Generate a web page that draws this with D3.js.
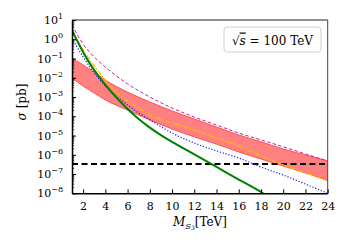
<!DOCTYPE html>
<html><head><meta charset="utf-8">
<script src="https://cdn.jsdelivr.net/npm/d3@7"></script>
<style>body{margin:0;background:#fff}svg{display:block}svg text{fill:#000}</style>
</head><body>
<svg id="c" width="350" height="250"></svg>
<script>
// ---- data ----
const xTicks = [2,4,6,8,10,12,14,16,18,20,22,24];
const yTickExps = [1,0,-1,-2,-3,-4,-5,-6,-7,-8];

const bandMass  = [1,2,3,4,6,8,10,12,14,16,18,20,22,24];
const bandUpper = [0.107,0.046,0.02,7.6e-3,1.8e-3,5.5e-4,1.9e-4,7.2e-5,2.75e-5,1.07e-5,4.7e-6,2.0e-6,9.8e-7,4.8e-7];
const bandLower = [9.8e-3,3.7e-3,1.6e-3,7.1e-4,2.1e-4,6.5e-5,2.2e-5,8.5e-6,3.6e-6,1.4e-6,6.0e-7,2.6e-7,1.15e-7,4.9e-8];

const magentaMass  = [1,2,3,4,5,6,8,10,12,14,16,18,20,22,24];
const magentaSigma = [5.5,0.56,0.12,0.036,0.0123,0.0048,1.0e-3,2.7e-4,9.1e-5,3.5e-5,1.35e-5,5.9e-6,2.6e-6,1.1e-6,4.8e-7];

const orangeMass  = [1,2,3,4,5,6,7,8,10,12,14,16,18,20,22,24];
const orangeSigma = [2.7,0.275,0.041,7.6e-3,1.8e-3,6.2e-4,2.7e-4,1.17e-4,4.5e-5,1.95e-5,7.4e-6,2.9e-6,8.7e-7,2.95e-7,1.15e-7,4.4e-8];

const blueMass  = [1,2,3,4,5,6,7,8,10,12,14,16,18,20,22,24];
const blueSigma = [1.17,0.12,0.0178,3.7e-3,1.12e-3,3.9e-4,1.48e-4,6.5e-5,1.35e-5,4.1e-6,1.6e-6,6.8e-7,2.3e-7,8.9e-8,3.0e-8,1.0e-8];

const greenMass  = [1,1.5,2,2.5,3,3.5,4,5,6,7,8,9,10,12,14,16,18,18.2];
const greenSigma = [3.0,0.76,0.214,0.069,0.0251,0.01,4.27e-3,9.3e-4,2.4e-4,7.2e-5,2.57e-5,1.05e-5,4.7e-6,1.05e-6,2.34e-7,5.2e-8,1.17e-8,1.0e-8];

const limitSigma = 3.3e-7;
const legendText = "100 TeV";

// ---- layout ----
const svg = d3.select("#c");
const FONT = "DejaVu Serif, serif";
const L = 72, R = 327.7, T = 20, B = 193.3;
const x = d3.scaleLinear().domain([1,24]).range([L,R]);
const y = d3.scaleLog().domain([1e-8,10]).range([B,T]);

const zip = (m,s) => m.map((v,i)=>({m:v,s:s[i]}));
const line = d3.line().x(d=>x(d.m)).y(d=>y(d.s)).curve(d3.curveMonotoneX);

svg.append("clipPath").attr("id","clip").append("rect").attr("x",L).attr("y",T).attr("width",R-L).attr("height",B-T);
const g = svg.append("g").attr("clip-path","url(#clip)");

// band
const bandData = bandMass.map((m,i)=>({m, hi:bandUpper[i], lo:bandLower[i]}));
g.append("path").datum(bandData)
  .attr("d", d3.area().x(d=>x(d.m)).y0(d=>y(d.lo)).y1(d=>y(d.hi)).curve(d3.curveMonotoneX))
  .attr("fill","#ff8080").attr("stroke","none");
g.append("path").datum(bandData.map(d=>({m:d.m,s:d.hi}))).attr("d",line)
  .attr("fill","none").attr("stroke","#ff5050").attr("stroke-width",1);
g.append("path").datum(bandData.map(d=>({m:d.m,s:d.lo}))).attr("d",line)
  .attr("fill","none").attr("stroke","#ff5050").attr("stroke-width",1);

// limit line
g.append("line").attr("x1",x(1)).attr("x2",x(24)).attr("y1",y(limitSigma)).attr("y2",y(limitSigma))
  .attr("stroke","#000").attr("stroke-width",2).attr("stroke-dasharray","6,3.5");

// curves
g.append("path").datum(zip(magentaMass,magentaSigma)).attr("d",line)
  .attr("fill","none").attr("stroke","#c8209a").attr("stroke-width",1).attr("stroke-dasharray","3.5,2.2");
g.append("path").datum(zip(orangeMass,orangeSigma)).attr("d",line)
  .attr("fill","none").attr("stroke","#ffbb00").attr("stroke-width",1.3).attr("stroke-dasharray","5,1.5,1.5,1.5");
g.append("path").datum(zip(blueMass,blueSigma)).attr("d",line)
  .attr("fill","none").attr("stroke","#1a1aff").attr("stroke-width",1.2).attr("stroke-dasharray","1.2,1.8");
g.append("path").datum(zip(greenMass,greenSigma)).attr("d",line)
  .attr("fill","none").attr("stroke","#008000").attr("stroke-width",2);

// frame
svg.append("line").attr("x1",L).attr("x2",R).attr("y1",T).attr("y2",T).attr("stroke","#222").attr("stroke-width",1);
svg.append("line").attr("x1",R).attr("x2",R).attr("y1",T).attr("y2",B).attr("stroke","#444").attr("stroke-width",1);

// x axis
const xAxis = d3.axisBottom(x).tickValues(xTicks).tickSizeInner(-4).tickSizeOuter(0).tickPadding(9);
const gx = svg.append("g").attr("transform",`translate(0,${B})`).call(xAxis).attr("font-family",FONT);
gx.select(".domain").attr("stroke","#000").attr("stroke-width",1.5);
gx.selectAll(".tick line").attr("stroke","#000").attr("stroke-width",1);
gx.selectAll("text").attr("font-family",FONT).attr("font-size",11).attr("fill","#000");

// y axis major/minor
const yMajor = yTickExps.map(e=>Math.pow(10,e));
const yAxis = d3.axisLeft(y).tickValues(yMajor).tickSizeInner(-4).tickSizeOuter(0).tickFormat("");
const gy = svg.append("g").attr("transform",`translate(${L},0)`).call(yAxis);
gy.select(".domain").attr("stroke","#000").attr("stroke-width",1.5);
gy.selectAll(".tick line").attr("stroke","#000").attr("stroke-width",1);
const minor = y.ticks().filter(v=>yMajor.indexOf(v)<0);
svg.append("g").selectAll("line").data(minor).join("line")
  .attr("x1",L).attr("x2",L+2.2).attr("y1",d=>y(d)).attr("y2",d=>y(d))
  .attr("stroke","#000").attr("stroke-width",0.8);

// y tick labels with superscripts
const yl = svg.append("g").selectAll("text").data(yTickExps).join("text")
  .attr("x",63).attr("y",d=>y(Math.pow(10,d))+4).attr("text-anchor","end")
  .attr("font-family",FONT).attr("font-size",11);
yl.append("tspan").text("10");
yl.append("tspan").attr("dy",-5).attr("font-size",8).text(d=>d<0?"\u2212"+(-d):String(d));

// axis labels
const xl = svg.append("text").attr("x",200).attr("y",226).attr("text-anchor","middle")
  .attr("font-family",FONT).attr("font-size",12);
xl.append("tspan").attr("font-style","italic").text("M");
xl.append("tspan").attr("font-style","italic").attr("font-size",8).attr("dy",2.5).text("S");
xl.append("tspan").attr("font-size",6).attr("dy",1.5).text("3");
xl.append("tspan").attr("dy",-4).text("[TeV]");

const ylab = svg.append("text").attr("transform","translate(26,102) rotate(-90)").attr("text-anchor","middle")
  .attr("font-family",FONT).attr("font-size",12);
ylab.append("tspan").attr("font-style","italic").text("σ");
ylab.append("tspan").text(" [pb]");

// legend
svg.append("rect").attr("x",224).attr("y",27).attr("width",97).attr("height",25).attr("rx",3)
  .attr("fill","#fff").attr("stroke","#d0d0d0").attr("stroke-width",1);
const lt = svg.append("text").attr("x",272.5).attr("y",44.5).attr("text-anchor","middle")
  .attr("font-family",FONT).attr("font-size",12);
lt.append("tspan").text("\u221A");
lt.append("tspan").attr("font-style","italic").attr("text-decoration","overline").text("s");
lt.append("tspan").text(" = " + legendText);
</script>
</body></html>
